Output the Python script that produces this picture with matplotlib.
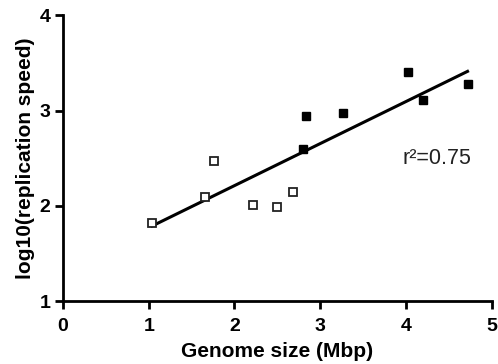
import matplotlib
matplotlib.use('Agg')
import matplotlib.pyplot as plt
import numpy as np

plt.rcParams['font.family'] = ['Liberation Sans', 'DejaVu Sans']

# open squares
open_x = [1.04, 1.66, 1.76, 2.22, 2.50, 2.68]
open_y = [1.82, 2.09, 2.47, 2.01, 1.99, 2.14]
# filled squares
filled_x = [2.80, 2.84, 3.27, 4.02, 4.20, 4.72]
filled_y = [2.60, 2.94, 2.97, 3.40, 3.11, 3.28]

x_ticks = [0, 1, 2, 3, 4, 5]
y_ticks = [1, 2, 3, 4]
r2_text = 'r\u00b2=0.75'

all_x = np.array(open_x + filled_x)
all_y = np.array(open_y + filled_y)
slope, intercept = np.polyfit(all_x, all_y, 1)
fit_x = np.array([all_x.min(), all_x.max()])

fig = plt.figure(figsize=(4.98, 3.64), dpi=100)
ax = fig.add_axes([0.1265, 0.173, 0.8605, 0.785])

ax.plot(fit_x, slope * fit_x + intercept, color='black', lw=2.2, zorder=2)
ax.plot(open_x, open_y, 's', ms=6, mfc='white', mec='#222222', mew=1.3, zorder=3)
ax.plot(filled_x, filled_y, 's', ms=6, mfc='black', mec='black', zorder=3)

ax.text(3.96, 2.50, r2_text, fontsize=15.5, va='center', ha='left', color='#222222')

ax.set_xlim(0, 5)
ax.set_ylim(1, 4)
ax.set_xticks(x_ticks)
ax.set_yticks(y_ticks)
for lab in ax.get_xticklabels() + ax.get_yticklabels():
    lab.set_fontweight('bold')
ax.tick_params(labelsize=14, width=2, length=6, direction='out', pad=3)
ax.tick_params(axis='x', pad=6)
for side in ('top', 'right'):
    ax.spines[side].set_visible(False)
for side in ('left', 'bottom'):
    ax.spines[side].set_linewidth(2)

ax.set_xlabel('Genome size (Mbp)', fontsize=15, fontweight='bold', labelpad=5)
ax.set_ylabel('log10(replication speed)', fontsize=15, fontweight='bold', labelpad=3)

fig.savefig('out.png', dpi=100)
